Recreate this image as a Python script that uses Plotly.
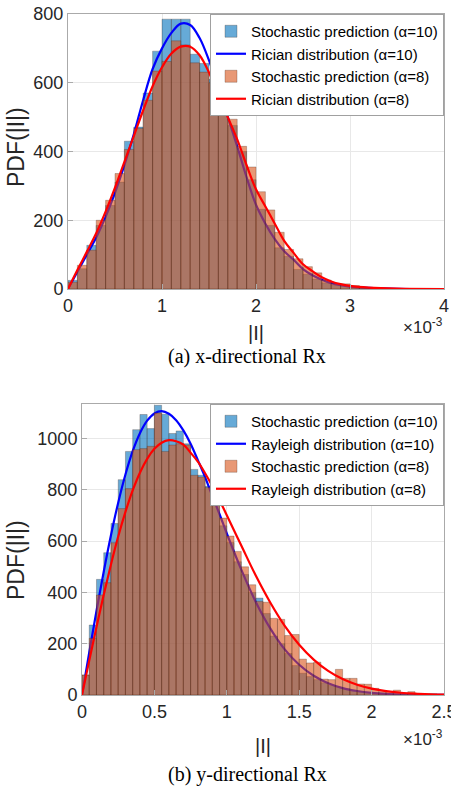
import plotly.graph_objects as go

# ---------------- data: panel (a) x-directional Rx (|I| in units of 1e-3) ----------------
bin_w_a = 0.1
bins_a = [round(0.05 + 0.1 * i, 3) for i in range(32)]  # bin centres
hist_a10 = [25, 59, 127, 185, 243, 311, 430, 471, 570, 692, 785, 785, 785, 683, 656, 610,
            560, 476, 400, 318, 232, 185, 120, 95, 57, 43, 29, 18, 12, 10, 4, 0]
hist_a8 = [20, 69, 113, 200, 258, 336, 406, 467, 549, 634, 662, 722, 710, 658, 631, 600,
           565, 494, 415, 355, 283, 230, 165, 115, 88, 65, 47, 26, 16, 15, 10, 3]
curve_x_a = [0, 0.1, 0.2, 0.3, 0.4, 0.5, 0.6, 0.7, 0.8, 0.9, 1.0, 1.1, 1.2, 1.3, 1.4, 1.5,
             1.6, 1.7, 1.8, 1.9, 2.0, 2.1, 2.2, 2.3, 2.4, 2.5, 2.6, 2.7, 2.8, 2.9, 3.0,
             3.2, 3.5, 4.0]
rician_a10 = [0, 50, 100, 150, 210, 280, 360, 450, 550, 640, 700, 745, 772, 768, 730, 665,
              585, 500, 415, 325, 245, 190, 145, 110, 85, 58, 40, 27, 17, 11, 7, 3, 0.8, 0]
rician_a8 = [0, 55, 108, 162, 225, 295, 370, 445, 520, 590, 645, 685, 705, 705, 680, 630,
             565, 500, 435, 360, 290, 240, 190, 140, 105, 72, 52, 34, 22, 14, 9, 4, 1, 0]
xticks_a = [0, 1, 2, 3, 4]
yticks_a = [0, 200, 400, 600, 800]

# ---------------- data: panel (b) y-directional Rx ----------------
bin_w_b = 0.05
bins_b = [round(0.025 + 0.05 * i, 4) for i in range(50)]
hist_b10 = [78, 273, 451, 555, 669, 840, 950, 1035, 1094, 1039, 1130, 1095, 1020, 1030, 980,
            880, 857, 814, 745, 660, 595, 520, 470, 400, 378, 318, 230, 200, 162, 115,
            85, 72, 60, 48, 38, 30, 24, 18, 12, 9, 7, 5, 3, 2, 2, 1, 1, 0, 0, 0]
hist_b8 = [78, 221, 390, 438, 594, 727, 805, 957, 961, 970, 1100, 950, 975, 980, 975,
           857, 850, 809, 760, 690, 620, 560, 500, 430, 365, 362, 299, 295, 232, 236,
           140, 125, 128, 62, 60, 100, 65, 65, 43, 42, 26, 13, 13, 19, 8, 13, 6, 5, 5, 3]
curve_x_b = [0, 0.05, 0.1, 0.15, 0.2, 0.25, 0.3, 0.35, 0.4, 0.45, 0.5, 0.55, 0.6, 0.65, 0.7,
             0.75, 0.8, 0.85, 0.9, 0.95, 1.0, 1.1, 1.2, 1.3, 1.4, 1.5, 1.6, 1.7, 1.8, 1.9,
             2.0, 2.1, 2.2, 2.3, 2.4, 2.5]
rayleigh_b10 = [0, 166, 328, 481, 623, 750, 860, 951, 1021, 1070, 1098, 1107, 1097, 1072, 1032,
                980, 916, 850, 776, 705, 630, 489, 363, 260, 178, 118, 75, 46, 27, 15.6,
                8.5, 4.5, 2.3, 1.1, 0.5, 0.25]
rayleigh_b8 = [0, 134, 265, 391, 509, 618, 714, 798, 867, 921, 960, 984, 994, 990, 977,
               945, 910, 865, 815, 760, 701, 583, 466, 361, 270, 196, 138, 94, 62, 40,
               25, 15, 8.8, 5.0, 2.8, 1.5]
xticks_b = [0, 0.5, 1, 1.5, 2, 2.5]
yticks_b = [0, 200, 400, 600, 800, 1000]

# ---------------- styling ----------------
W, H = 451, 788
SANS = "Liberation Sans, Arial, sans-serif"
SERIF = "Liberation Serif, Times New Roman, serif"
BLUE_FACE = "rgba(0,114,189,0.6)"
ORANGE_FACE = "rgba(217,83,25,0.6)"
EDGE = "rgba(60,30,20,0.45)"
GRID = "rgb(232,232,232)"
FRAME = "rgb(170,170,170)"
TICKC = "rgb(38,38,38)"


def px_x(p):
    return p / W


def px_y(p):
    return 1 - p / H


fig = go.Figure()

# panel (a)
fig.add_trace(go.Bar(x=bins_a, y=hist_a10, width=bin_w_a, xaxis="x", yaxis="y",
                     marker=dict(color=BLUE_FACE, line=dict(color=EDGE, width=0.6)),
                     name="Stochastic prediction (α=10)", legend="legend"))
fig.add_trace(go.Scatter(x=curve_x_a, y=rician_a10, mode="lines", line_shape="spline",
                         xaxis="x", yaxis="y", line=dict(color="rgb(0,0,255)", width=2.2),
                         name="Rician distribution (α=10)", legend="legend"))
fig.add_trace(go.Bar(x=bins_a, y=hist_a8, width=bin_w_a, xaxis="x", yaxis="y3",
                     marker=dict(color=ORANGE_FACE, line=dict(color=EDGE, width=0.6)),
                     name="Stochastic prediction (α=8)", legend="legend"))
fig.add_trace(go.Scatter(x=curve_x_a, y=rician_a8, mode="lines", line_shape="spline",
                         xaxis="x", yaxis="y3", line=dict(color="rgb(255,0,0)", width=2.2),
                         name="Rician distribution (α=8)", legend="legend"))

# panel (b)
fig.add_trace(go.Bar(x=bins_b, y=hist_b10, width=bin_w_b, xaxis="x2", yaxis="y2",
                     marker=dict(color=BLUE_FACE, line=dict(color=EDGE, width=0.6)),
                     name="Stochastic prediction (α=10)", legend="legend2"))
fig.add_trace(go.Scatter(x=curve_x_b, y=rayleigh_b10, mode="lines", line_shape="spline",
                         xaxis="x2", yaxis="y2", line=dict(color="rgb(0,0,255)", width=2.2),
                         name="Rayleigh distribution (α=10)", legend="legend2"))
fig.add_trace(go.Bar(x=bins_b, y=hist_b8, width=bin_w_b, xaxis="x2", yaxis="y4",
                     marker=dict(color=ORANGE_FACE, line=dict(color=EDGE, width=0.6)),
                     name="Stochastic prediction (α=8)", legend="legend2"))
fig.add_trace(go.Scatter(x=curve_x_b, y=rayleigh_b8, mode="lines", line_shape="spline",
                         xaxis="x2", yaxis="y4", line=dict(color="rgb(255,0,0)", width=2.2),
                         name="Rayleigh distribution (α=8)", legend="legend2"))

dom_a_x = [px_x(68), px_x(444)]
dom_a_y = [px_y(289), px_y(14)]
dom_b_x = [px_x(82), px_x(444)]
dom_b_y = [px_y(695), px_y(404)]

tickfont = dict(family=SANS, size=18, color=TICKC)
common_x = dict(showgrid=True, gridcolor=GRID, gridwidth=1, zeroline=False, showline=True,
                linecolor=FRAME, linewidth=1, mirror=True, ticks="inside", ticklen=5,
                tickcolor=FRAME, tickfont=tickfont, fixedrange=True, automargin=False,
                ticklabeloverflow="allow")
common_y = dict(common_x)

legend_style = dict(bgcolor="white", bordercolor="rgb(160,160,160)", borderwidth=1,
                    font=dict(family=SANS, size=15, color="black"), xanchor="right",
                    yanchor="top", tracegroupgap=0, itemwidth=30)

fig.update_layout(
    width=W, height=H, margin=dict(l=0, r=0, t=0, b=0, autoexpand=False),
    paper_bgcolor="white", plot_bgcolor="white", barmode="overlay", showlegend=True,
    xaxis=dict(common_x, domain=dom_a_x, range=[0, 4], tickvals=xticks_a,
               ticktext=[str(v) for v in xticks_a], anchor="y"),
    yaxis=dict(common_y, domain=dom_a_y, range=[0, 800], tickvals=yticks_a, anchor="x"),
    yaxis3=dict(domain=dom_a_y, range=[0, 800], overlaying="y", anchor="x", visible=False,
                fixedrange=True, automargin=False),
    xaxis2=dict(common_x, domain=dom_b_x, range=[0, 2.5], tickvals=xticks_b,
                ticktext=["0", "0.5", "1", "1.5", "2", "2.5"], anchor="y2"),
    yaxis2=dict(common_y, domain=dom_b_y, range=[0, 1135], tickvals=yticks_b, anchor="x2"),
    yaxis4=dict(domain=dom_b_y, range=[0, 1135], overlaying="y2", anchor="x2", visible=False,
                fixedrange=True, automargin=False),
    legend=dict(legend_style, x=px_x(444), y=px_y(14)),
    legend2=dict(legend_style, x=px_x(444), y=px_y(404)),
)

ann = []
lab = dict(family=SANS, size=20, color=TICKC)
ylab = dict(family=SANS, size=23, color=TICKC)
# axis titles
ann.append(dict(text="|I|", x=px_x(256), y=px_y(333), xref="paper", yref="paper",
                showarrow=False, font=lab, xanchor="center", yanchor="middle"))
ann.append(dict(text="|I|", x=px_x(263), y=px_y(746), xref="paper", yref="paper",
                showarrow=False, font=lab, xanchor="center", yanchor="middle"))
ann.append(dict(text="PDF(|I|)", x=px_x(16), y=px_y(147), xref="paper", yref="paper",
                showarrow=False, font=ylab, textangle=-90, xanchor="center", yanchor="middle"))
ann.append(dict(text="PDF(|I|)", x=px_x(16), y=px_y(560), xref="paper", yref="paper",
                showarrow=False, font=ylab, textangle=-90, xanchor="center", yanchor="middle"))
# exponent labels
ann.append(dict(text="×10<sup>-3</sup>", x=px_x(445), y=px_y(326), xref="paper", yref="paper",
                showarrow=False, font=dict(family=SANS, size=17, color=TICKC),
                xanchor="right", yanchor="middle"))
ann.append(dict(text="×10<sup>-3</sup>", x=px_x(445), y=px_y(738), xref="paper", yref="paper",
                showarrow=False, font=dict(family=SANS, size=17, color=TICKC),
                xanchor="right", yanchor="middle"))
# captions
ann.append(dict(text="(a) x-directional Rx", x=px_x(247), y=px_y(356), xref="paper",
                yref="paper", showarrow=False, font=dict(family=SERIF, size=20, color="black"),
                xanchor="center", yanchor="middle"))
ann.append(dict(text="(b) y-directional Rx", x=px_x(247), y=px_y(774), xref="paper",
                yref="paper", showarrow=False, font=dict(family=SERIF, size=20, color="black"),
                xanchor="center", yanchor="middle"))
fig.update_layout(annotations=ann)

fig.write_html(
    "out.html",
    config={"displayModeBar": False},
    post_script="document.body.style.margin='0';document.body.style.padding='0';"
                "document.body.style.overflow='hidden';",
)
